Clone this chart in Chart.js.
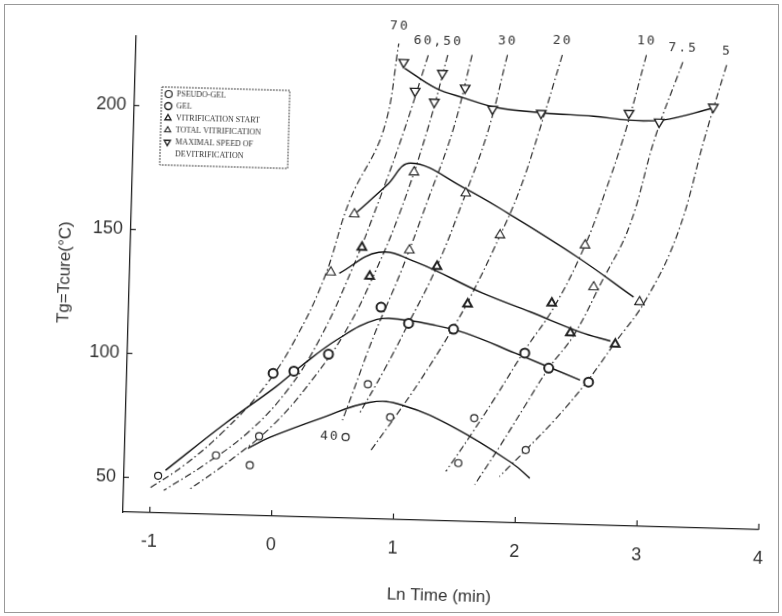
<!DOCTYPE html>
<html>
<head>
<meta charset="utf-8">
<script src="https://cdn.jsdelivr.net/npm/chart.js@4.4.0/dist/chart.umd.min.js"></script>
<style>
  html, body { margin: 0; padding: 0; background: #fff; }
  #wrap { position: relative; width: 782px; height: 616px; overflow: hidden; background: #fff; }
  #frame { position: absolute; left: 4px; top: 4px; right: 3px; bottom: 3px; border: 1px solid #999; }
  /* the scan is a little tilted, so the canvas is too */
  #c { position: absolute; left: 0; top: 0; transform-origin: 123px 511px; transform: rotate(1.6deg); }
</style>
</head>
<body>
<div id="wrap"><canvas id="c" width="782" height="616"></canvas><div id="frame"></div></div>
<script>
// values: [ln time, temperature]
const xTicks = [-1, 0, 1, 2, 3, 4];
const yTicks = [50, 100, 150, 200];

const pseudoGel = [[-0.94, 51], [-0.47, 59.9], [-0.19, 56.3], [-0.12, 68.1], [0.59, 68.7], [0.76, 90.3], [0.95, 77.2], [1.52, 59.5], [1.64, 77.8], [2.07, 65.5]];
const gel = [[-0.02, 93.6], [0.15, 94.7], [0.43, 101.9], [0.85, 121.5], [1.08, 115.3], [1.45, 113.4], [2.04, 104.6], [2.24, 98.8], [2.57, 93.6]];
const vitStart = [[0.68, 145.4], [0.75, 133.8], [1.30, 138.6], [1.56, 123.7], [2.25, 125], [2.41, 113.2], [2.78, 109.2]];
const totalVit = [[0.43, 135], [0.61, 158.7], [1.07, 144.8], [1.09, 176.3], [1.52, 168.4], [1.81, 151.9], [2.51, 148.8], [2.59, 132], [2.97, 126.5]];
const maxDevit = [[0.98, 220.5], [1.08, 209], [1.24, 204.8], [1.30, 216.5], [1.49, 210.8], [1.72, 202.6], [2.12, 201.5], [2.84, 202.5], [3.09, 199.3], [3.53, 205.9]];

// hand drawn solid curves through each event
const pseudoGelLine = [[-0.21, 63.1], [-0.03, 67.8], [0.38, 76], [0.78, 83], [1.05, 82.2], [1.49, 73.5], [1.96, 60.1], [2.11, 54.2]];
const gelLine = [[-0.88, 53.3], [-0.40, 72.9], [0.0, 88], [0.2, 96.5], [0.5, 108], [0.82, 116.5], [1.06, 116.5], [1.30, 114.8], [1.55, 112], [1.96, 104.5], [2.50, 94.3]];
const vitStartLine = [[0.50, 134.7], [0.82, 143.6], [1.13, 140], [1.68, 128.3], [2.08, 121.2], [2.49, 113.7], [2.74, 110.4]];
const totalVitLine = [[0.63, 159.5], [0.87, 170.7], [1.06, 179.9], [1.51, 170.4], [1.87, 160.8], [2.45, 143.9], [2.92, 128.4]];
const maxDevitLine = [[0.99, 218.1], [1.25, 210.4], [1.49, 206.7], [1.74, 203.4], [2.15, 201.6], [2.55, 200.9], [2.84, 199.7], [3.12, 200.1], [3.53, 205.5]];

// dash-dot iso curves, top end first
const curve70 = [[0.94, 229.4], [0.83, 192.9], [0.57, 164.3], [0.38, 132.9], [0.15, 107.2], [-0.09, 87.9], [-0.42, 69.3], [-0.73, 55.5], [-1.01, 45.8]];
const curve60 = [[1.18, 223.6], [1.00, 193.1], [0.81, 164.6], [0.60, 136], [0.35, 107.5], [0.10, 86.9], [-0.21, 69.6], [-0.57, 55.7], [-0.89, 45.2]];
const curve50 = [[1.34, 223.9], [1.19, 193.4], [0.99, 160.8], [0.80, 136.3], [0.57, 111.8], [0.30, 91.3], [-0.01, 72.7], [-0.35, 58.1], [-0.69, 45.5]];
const curve40 = [[1.54, 224.2], [1.40, 193.7], [1.21, 165.2], [1.01, 136.6], [0.80, 110.1], [0.63, 85.6], [0.56, 75.5]];
const curve30 = [[1.83, 224.6], [1.69, 194.1], [1.52, 168.4], [1.30, 138.6], [1.08, 115.3], [0.89, 96.1], [0.69, 77.7]];
const curve20 = [[2.28, 225.2], [2.11, 194.7], [1.96, 170.2], [1.80, 150.5], [1.58, 126.5], [1.43, 112.5], [1.19, 92.5], [1.00, 78.1], [0.80, 63.7]];
const curve10 = [[2.97, 226.1], [2.82, 196], [2.66, 170], [2.50, 147.5], [2.27, 123.5], [2.04, 105.8], [1.81, 86.5], [1.61, 70.5], [1.42, 56]];
const curve7_5 = [[3.27, 223.7], [3.06, 193], [2.87, 157], [2.65, 133.7], [2.44, 112.5], [2.24, 98.8], [2.05, 83], [1.86, 67], [1.66, 51]];
const curve5 = [[3.63, 223], [3.47, 194], [3.27, 155], [3.02, 127.3], [2.77, 109.2], [2.56, 94], [2.31, 78.5], [2.07, 65.5], [1.86, 54.5]];

const curves = [curve70, curve60, curve50, curve40, curve30, curve20, curve10, curve7_5, curve5];
// label text and the curves it belongs to (index into curves)
const topLabels = [["70", [0]], ["60,50", [1, 2]], ["30", [4]], ["20", [5]], ["10", [6]], ["7.5", [7]], ["5", [8]]];
const bottomLabels = [["40", 3]];

const INK = "#222";
const TEXT = "#333";
const FONT = '"Liberation Sans", Arial, sans-serif';

const pts = (arr) => arr.map(([x, y]) => ({ x, y }));

const pointSets = [
  { label: "PSEUDO-GEL", data: pts(pseudoGel), pointStyle: "circle", pointRadius: 3.5, pointBorderWidth: 1.2 },
  { label: "GEL", data: pts(gel), pointStyle: "circle", pointRadius: 4.5, pointBorderWidth: 2 },
  { label: "VITRIFICATION START", data: pts(vitStart), pointStyle: "triangle", pointRadius: 5, pointBorderWidth: 2 },
  { label: "TOTAL VITRIFICATION", data: pts(totalVit), pointStyle: "triangle", pointRadius: 5.5, pointBorderWidth: 1.1 },
  { label: "MAXIMAL SPEED OF|DEVITRIFICATION", data: pts(maxDevit), pointStyle: "triangle", pointRotation: 180, pointRadius: 5.5, pointBorderWidth: 1.4 },
].map((d) => ({ ...d, showLine: false, borderColor: INK, backgroundColor: "#fff", pointBackgroundColor: "#fff", pointBorderColor: INK, isPoints: true }));

const solidSets = [pseudoGelLine, gelLine, vitStartLine, totalVitLine, maxDevitLine].map((l) => ({
  data: pts(l), showLine: true, borderColor: "#111", borderWidth: 1.4, pointRadius: 0, tension: 0.4,
}));

const dashSets = curves.map((c) => ({
  data: pts(c), showLine: true, borderColor: "#2a2a2a", borderWidth: 1.2, borderDash: [7, 3, 1.5, 3], pointRadius: 0, tension: 0.4,
}));

// ticks on the inside of the axes, like the original
const inwardTicks = {
  id: "inwardTicks",
  afterDraw(chart) {
    const { ctx, chartArea: a, scales: { x, y } } = chart;
    ctx.save();
    ctx.strokeStyle = INK;
    ctx.lineWidth = 1.2;
    x.ticks.forEach((t) => {
      const px = x.getPixelForValue(t.value);
      ctx.beginPath(); ctx.moveTo(px, a.bottom); ctx.lineTo(px, a.bottom - 6); ctx.stroke();
    });
    y.ticks.forEach((t) => {
      const py = y.getPixelForValue(t.value);
      ctx.beginPath(); ctx.moveTo(a.left, py); ctx.lineTo(a.left + 5, py); ctx.stroke();
    });
    ctx.restore();
  },
};

// numbers written at the ends of the dash-dot curves
const curveLabels = {
  id: "curveLabels",
  afterDatasetsDraw(chart) {
    const { ctx, scales: { x, y } } = chart;
    ctx.save();
    ctx.fillStyle = TEXT;
    ctx.font = '13px "DejaVu Sans Mono", monospace';
    ctx.letterSpacing = "2px";
    ctx.textAlign = "center";
    ctx.textBaseline = "middle";
    topLabels.forEach(([text, idx]) => {
      const px = idx.reduce((s, i) => s + x.getPixelForValue(curves[i][0][0]), 0) / idx.length;
      const py = Math.min(...idx.map((i) => y.getPixelForValue(curves[i][0][1])));
      ctx.fillText(text, px, py - 14);
    });
    bottomLabels.forEach(([text, i]) => {
      const last = curves[i][curves[i].length - 1];
      ctx.fillText(text, x.getPixelForValue(last[0]) - 12, y.getPixelForValue(last[1]) + 17);
    });
    ctx.restore();
  },
};

// small boxed key in the upper left
const keyBox = {
  id: "keyBox",
  afterDraw(chart) {
    const { ctx, chartArea: a } = chart;
    const left = a.left + 27, top = a.top + 50, w = 128, h = 78;
    ctx.save();
    ctx.strokeStyle = "#444";
    ctx.lineWidth = 1;
    ctx.setLineDash([2, 1]);
    ctx.strokeRect(left, top, w, h);
    ctx.setLineDash([]);
    ctx.font = '8px "Liberation Serif", serif';
    ctx.textBaseline = "middle";
    let row = top + 7;
    chart.data.datasets.filter((d) => d.isPoints).forEach((d) => {
      ctx.strokeStyle = INK;
      ctx.fillStyle = "#fff";
      ctx.lineWidth = Math.min(d.pointBorderWidth, 1.4);
      Chart.helpers.drawPoint(ctx, { pointStyle: d.pointStyle, rotation: d.pointRotation || 0, radius: 3.5, borderWidth: ctx.lineWidth }, left + 7, row);
      ctx.fillStyle = TEXT;
      d.label.split("|").forEach((line, k) => {
        ctx.fillText(line, left + 15, row + k * 12);
      });
      row += 12 * d.label.split("|").length;
    });
    ctx.restore();
  },
};

new Chart(document.getElementById("c"), {
  type: "scatter",
  data: { datasets: [...pointSets, ...solidSets, ...dashSets] },
  options: {
    responsive: false,
    animation: false,
    devicePixelRatio: 1,
    layout: { padding: { left: 0, right: 14, top: 36, bottom: 0 } },
    plugins: { legend: { display: false }, tooltip: { enabled: false } },
    scales: {
      x: {
        type: "linear",
        min: -1.22,
        max: 4,
        afterBuildTicks: (s) => { s.ticks = xTicks.map((v) => ({ value: v })); },
        afterFit: (s) => { s.height = 104; },
        ticks: { color: TEXT, font: { family: FONT, size: 18 }, padding: 18 },
        grid: { display: true, drawOnChartArea: false, drawTicks: false },
        border: { display: true, color: INK, width: 1.3 },
        title: { display: true, text: "Ln Time (min)", color: TEXT, font: { family: FONT, size: 17 }, padding: { top: 0, bottom: 18 } },
      },
      y: {
        type: "linear",
        min: 36,
        max: 228,
        afterBuildTicks: (s) => { s.ticks = yTicks.map((v) => ({ value: v })); },
        afterFit: (s) => { s.width = 123; },
        ticks: { color: TEXT, font: { family: FONT, size: 18 }, padding: 8 },
        grid: { display: true, drawOnChartArea: false, drawTicks: false },
        border: { display: true, color: INK, width: 1.3 },
        title: { display: true, text: "Tg=Tcure(°C)", color: TEXT, font: { family: FONT, size: 17 }, padding: { top: 48, bottom: 0 } },
      },
    },
  },
  plugins: [inwardTicks, curveLabels, keyBox],
});
</script>
</body>
</html>
